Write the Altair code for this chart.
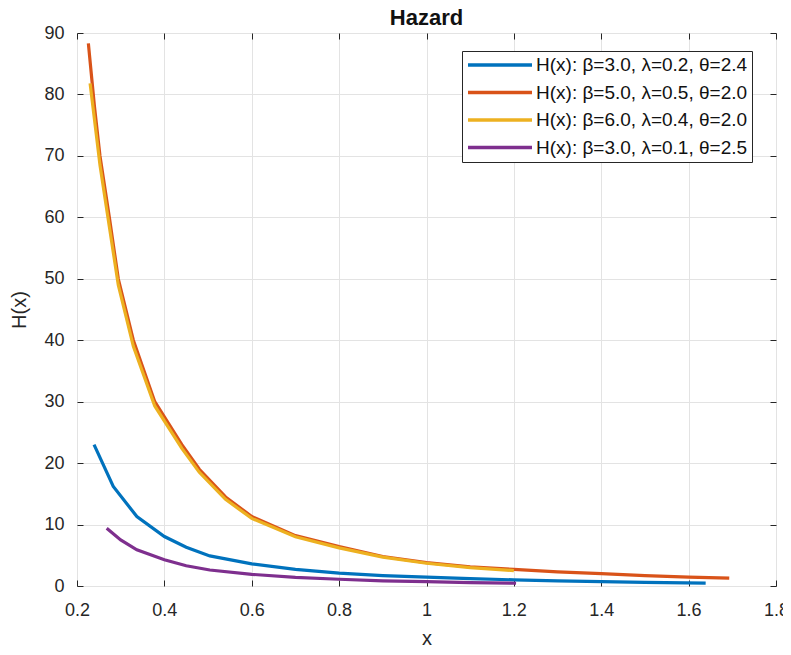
import altair as alt
import pandas as pd

# ---- data ----
labels = [
    "H(x): β=3.0, λ=0.2, θ=2.4",
    "H(x): β=5.0, λ=0.5, θ=2.0",
    "H(x): β=6.0, λ=0.4, θ=2.0",
    "H(x): β=3.0, λ=0.1, θ=2.5",
]
colors = ["#0072BD", "#D95319", "#EDB120", "#7E2F8E"]

blue_x = [0.239, 0.283, 0.337, 0.40, 0.45, 0.504, 0.60, 0.70, 0.80, 0.90, 1.00, 1.10, 1.20, 1.30, 1.40, 1.50, 1.639]
blue_y = [23.0, 16.2, 11.3, 8.05, 6.3, 4.9, 3.6, 2.7, 2.1, 1.7, 1.45, 1.2, 1.0, 0.85, 0.72, 0.6, 0.47]

orange_x = [0.226, 0.24, 0.2526, 0.274, 0.2945, 0.329, 0.378, 0.44, 0.48, 0.54, 0.60, 0.70, 0.80, 0.90, 1.00, 1.10, 1.20, 1.30, 1.40, 1.50, 1.60, 1.693]
orange_y = [88.3, 78.0, 70.0, 60.0, 50.0, 40.0, 30.0, 23.0, 19.0, 14.5, 11.3, 8.2, 6.4, 4.8, 3.8, 3.1, 2.7, 2.3, 2.0, 1.7, 1.45, 1.28]

yellow_x = [0.23, 0.2526, 0.274, 0.2945, 0.329, 0.378, 0.44, 0.48, 0.54, 0.60, 0.70, 0.80, 0.90, 1.00, 1.10, 1.20]
yellow_y = [81.8, 68.5, 58.5, 49.0, 39.0, 29.3, 22.4, 18.5, 14.1, 11.0, 8.0, 6.2, 4.7, 3.7, 3.0, 2.5]

purple_x = [0.268, 0.30, 0.337, 0.40, 0.45, 0.504, 0.60, 0.70, 0.80, 0.90, 1.00, 1.10, 1.205]
purple_y = [9.4, 7.5, 5.9, 4.26, 3.3, 2.6, 1.9, 1.4, 1.1, 0.85, 0.7, 0.55, 0.45]

x_ticks = [0.2, 0.4, 0.6, 0.8, 1.0, 1.2, 1.4, 1.6, 1.8]
y_ticks = [0, 10, 20, 30, 40, 50, 60, 70, 80, 90]

series = [(blue_x, blue_y), (orange_x, orange_y), (yellow_x, yellow_y), (purple_x, purple_y)]
rows = []
for i, (xs, ys) in enumerate(series):
    for j, (xv, yv) in enumerate(zip(xs, ys)):
        rows.append({"x": xv, "H": yv, "series": labels[i], "k": i})
df = pd.DataFrame(rows)

FONT = "Liberation Sans"
DARK = "#262626"
GRID = "#e3e3e3"

xscale = alt.Scale(domain=[0.2, 1.8], nice=False, zero=False)
yscale = alt.Scale(domain=[0, 90], nice=False, zero=True)

lines = alt.Chart(df).mark_line(strokeWidth=3.2, clip=True).encode(
    x=alt.X("x:Q", scale=xscale,
            axis=alt.Axis(values=x_ticks, format="~g", title="x", orient="bottom",
                          offset=-6, tickSize=6, tickColor=DARK, domain=False,
                          grid=True, gridColor=GRID, gridWidth=1,
                          labelFont=FONT, labelFontSize=18, labelColor=DARK,
                          labelPadding=15, labelFlush=False,
                          titleFont=FONT, titleFontSize=20, titleFontWeight="normal",
                          titleColor=DARK, titlePadding=9)),
    y=alt.Y("H:Q", scale=yscale,
            axis=alt.Axis(values=y_ticks, title="H(x)", orient="left",
                          offset=-6, tickSize=6, tickColor=DARK, domain=False,
                          grid=True, gridColor=GRID, gridWidth=1,
                          labelFont=FONT, labelFontSize=18, labelColor=DARK,
                          labelPadding=13, labelFlush=False,
                          titleFont=FONT, titleFontSize=20, titleFontWeight="normal",
                          titleColor=DARK, titlePadding=14)),
    color=alt.Color("series:N", sort=labels,
                    scale=alt.Scale(domain=labels, range=colors),
                    legend=alt.Legend(title=None, orient="none", legendX=385, legendY=18,
                                      symbolType="M-4,0H4", symbolSize=256,
                                      symbolStrokeWidth=3.3, symbolOffset=24,
                                      labelOffset=26, labelLimit=500,
                                      labelFont=FONT, labelFontSize=19, labelColor="#111111",
                                      rowPadding=7.5, padding=4,
                                      strokeColor=DARK, fillColor="white")),
    order=alt.Order("k:Q"),
    detail="k:N",
)

ticks2 = alt.Chart(df).mark_line(opacity=0).encode(
    x=alt.X("x:Q", scale=xscale,
            axis=alt.Axis(values=x_ticks, orient="top", labels=False, title=None,
                          offset=-6, tickSize=6, tickColor=DARK, domain=False, grid=False)),
    y=alt.Y("H:Q", scale=yscale,
            axis=alt.Axis(values=y_ticks, orient="right", labels=False, title=None,
                          offset=-6, tickSize=6, tickColor=DARK, domain=False, grid=False)),
    detail="k:N",
)

chart = alt.layer(lines, ticks2).resolve_axis(x="independent", y="independent").properties(
    width=699, height=553,
    title=alt.TitleParams("Hazard", font=FONT, fontSize=22, fontWeight="bold",
                          color="#111111", anchor="middle", offset=0, dy=6),
    autosize=alt.AutoSizeParams(type="none"),
    padding={"left": 69, "top": 25, "right": 7, "bottom": 61},
).configure_view(stroke=DARK, strokeWidth=1.2).configure(background="white")

chart.save("out.html", embed_options={"renderer": "svg", "actions": False})
